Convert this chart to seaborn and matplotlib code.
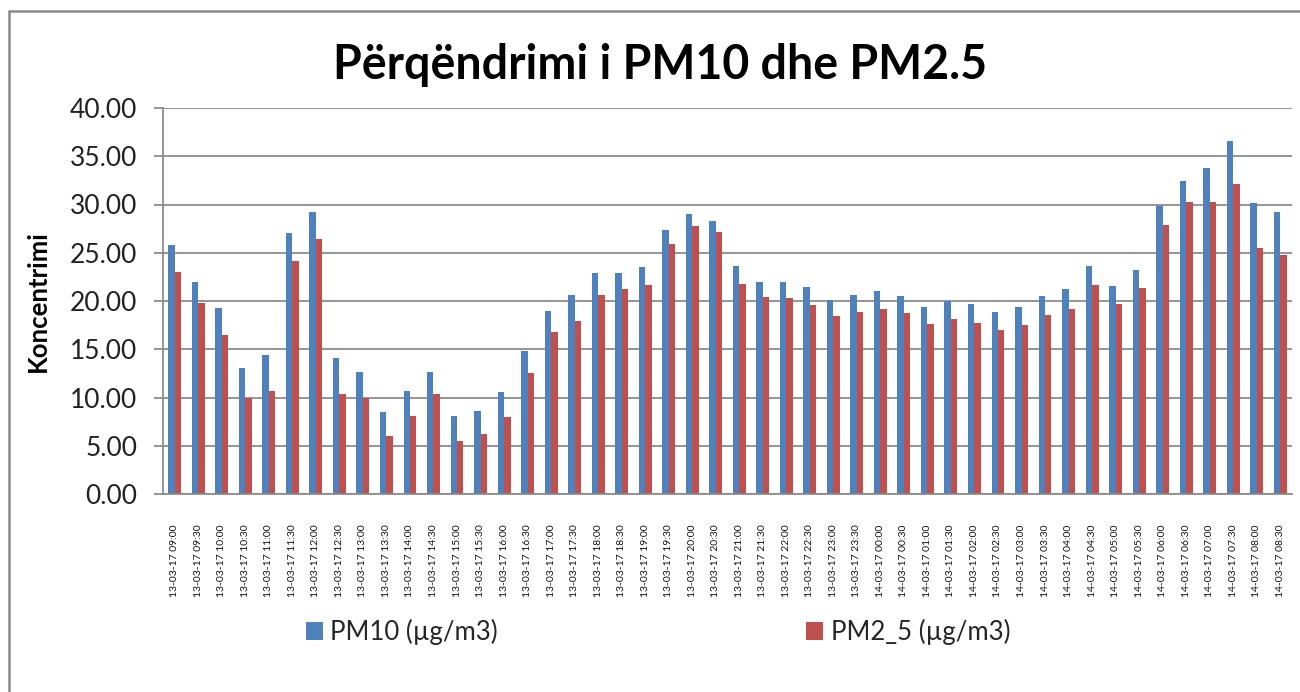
import matplotlib
matplotlib.use("Agg")
import matplotlib.pyplot as plt
import seaborn as sns
import pandas as pd
from matplotlib.patches import Rectangle
from matplotlib.ticker import FormatStrFormatter

times = [
    "13-03-17 09:00", "13-03-17 09:30", "13-03-17 10:00", "13-03-17 10:30",
    "13-03-17 11:00", "13-03-17 11:30", "13-03-17 12:00", "13-03-17 12:30",
    "13-03-17 13:00", "13-03-17 13:30", "13-03-17 14:00", "13-03-17 14:30",
    "13-03-17 15:00", "13-03-17 15:30", "13-03-17 16:00", "13-03-17 16:30",
    "13-03-17 17:00", "13-03-17 17:30", "13-03-17 18:00", "13-03-17 18:30",
    "13-03-17 19:00", "13-03-17 19:30", "13-03-17 20:00", "13-03-17 20:30",
    "13-03-17 21:00", "13-03-17 21:30", "13-03-17 22:00", "13-03-17 22:30",
    "13-03-17 23:00", "13-03-17 23:30", "14-03-17 00:00", "14-03-17 00:30",
    "14-03-17 01:00", "14-03-17 01:30", "14-03-17 02:00", "14-03-17 02:30",
    "14-03-17 03:00", "14-03-17 03:30", "14-03-17 04:00", "14-03-17 04:30",
    "14-03-17 05:00", "14-03-17 05:30", "14-03-17 06:00", "14-03-17 06:30",
    "14-03-17 07:00", "14-03-17 07:30", "14-03-17 08:00", "14-03-17 08:30",
]

pm10 = [
    25.8, 22.0, 19.3, 13.1, 14.4, 27.0, 29.2, 14.1,
    12.6, 8.5, 10.7, 12.6, 8.1, 8.6, 10.6, 14.8,
    19.0, 20.6, 22.9, 22.9, 23.5, 27.4, 29.0, 28.3,
    23.6, 22.0, 22.0, 21.4, 20.1, 20.6, 21.0, 20.5,
    19.4, 20.0, 19.7, 18.9, 19.4, 20.5, 21.2, 23.6,
    21.6, 23.2, 29.8, 32.4, 33.8, 36.6, 30.2, 29.2,
]

pm25 = [
    23.0, 19.8, 16.5, 9.9, 10.7, 24.1, 26.4, 10.4,
    10.0, 6.0, 8.1, 10.4, 5.5, 6.2, 8.0, 12.5,
    16.8, 17.9, 20.6, 21.2, 21.7, 25.9, 27.8, 27.1,
    21.8, 20.4, 20.3, 19.6, 18.4, 18.9, 19.2, 18.8,
    17.6, 18.1, 17.7, 17.0, 17.5, 18.6, 19.2, 21.7,
    19.7, 21.3, 27.9, 30.3, 30.3, 32.1, 25.5, 24.8,
]

series_names = ["PM10 (µg/m3)", "PM2_5 (µg/m3)"]
colors = ["#4F81BD", "#C0504D"]
title = "Përqëndrimi i PM10 dhe PM2.5"
ylabel = "Koncentrimi"

df = pd.DataFrame({
    "time": times * 2,
    "value": pm10 + pm25,
    "series": [series_names[0]] * len(times) + [series_names[1]] * len(times),
})

sns.set_theme(style="white")
plt.rcParams["font.family"] = ["Lato", "DejaVu Sans"]

W, H = 1300, 692
fig = plt.figure(figsize=(W / 100, H / 100), dpi=100)
ax = fig.add_axes([163 / W, 1 - 494 / H, (1292 - 163) / W, (494 - 108) / H])

sns.barplot(data=df, x="time", y="value", hue="series", palette=colors,
            saturation=1, width=0.55, gap=0, ax=ax, edgecolor="none",
            legend=True, order=times, hue_order=series_names)

grid_c = "#8c8c8c"
ax.set_ylim(0, 40)
ax.set_yticks(range(0, 41, 5))
ax.yaxis.set_major_formatter(FormatStrFormatter("%.2f"))
ax.yaxis.grid(True, color=grid_c, linewidth=1.3)
ax.set_axisbelow(True)
ax.set_xlim(-0.5, len(times) - 0.5)
for s in ["top", "right"]:
    ax.spines[s].set_visible(False)
for s in ["left", "bottom"]:
    ax.spines[s].set_color(grid_c)
    ax.spines[s].set_linewidth(1.3)
ax.tick_params(axis="y", which="major", left=True, length=6.5, width=1.3,
               color=grid_c, pad=12, labelsize=19, labelcolor="#222222")
ax.tick_params(axis="x", bottom=False, pad=16, labelsize=7.5, labelcolor="#111111")
for lbl in ax.get_xticklabels():
    lbl.set_rotation(90)
    lbl.set_va("top")
    lbl.set_ha("center")
ax.set_xlabel("")
ax.set_ylabel("")

handles, labels = ax.get_legend_handles_labels()
ax.get_legend().remove()
fig.legend(handles, labels, loc="center", bbox_to_anchor=(658 / W, 1 - 632 / H),
           ncol=2, frameon=False, fontsize=18.5, handlelength=0.65, handleheight=0.65,
           handletextpad=0.3, columnspacing=12.0)

fig.text(660 / W, 1 - 65 / H, title, ha="center", va="center",
         fontsize=33.5, fontweight="bold", color="black")
fig.text(38 / W, 1 - 301 / H, ylabel, ha="center", va="center", rotation=90,
         fontsize=18.5, fontweight="bold", color="black")

fig.patches.append(Rectangle((9 / W, -0.1), 1.2, (1 - 11 / H) + 0.1,
                             transform=fig.transFigure, fill=False,
                             edgecolor="#8a8a8a", linewidth=1.8))

fig.savefig("out.png", dpi=100, facecolor="white")
